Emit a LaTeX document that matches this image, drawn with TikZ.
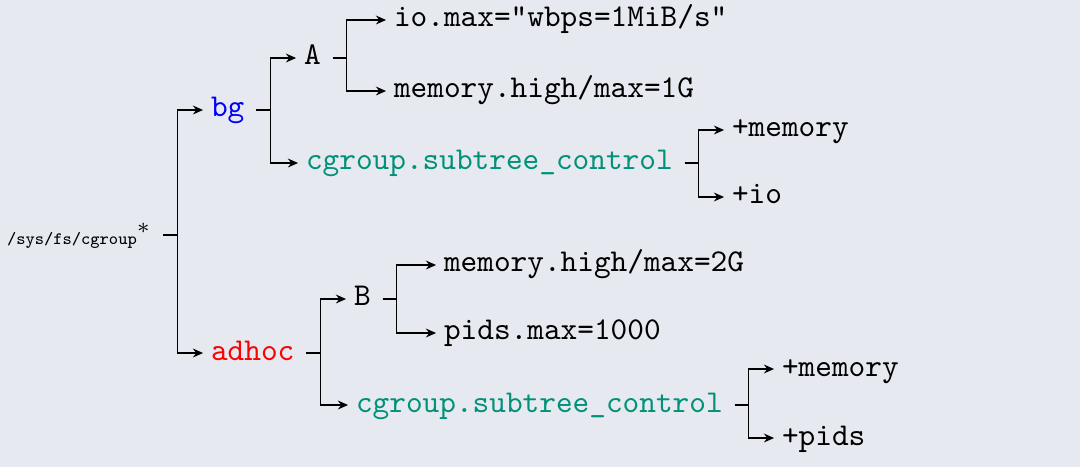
\documentclass[tikz,border=0pt]{standalone}
\usetikzlibrary{arrows.meta}
\definecolor{bgc}{RGB}{230,233,239}
\definecolor{cgreen}{RGB}{0,145,120}
\tikzset{
  lbl/.style={anchor=west,inner sep=0pt,outer sep=0pt,font=\ttfamily,text height=6.5pt,text depth=2.1pt},
  arr/.style={line width=0.45pt,-{Stealth[length=3.2pt,width=2.8pt]}},
}
\newcommand\forkto[2]{\draw[arr] ([xshift=3.8pt]#1.east) -- ++(4.4pt,0) |- ([xshift=-2.5pt]#2.west);}
\begin{document}
\begin{tikzpicture}[x=0.315pt,y=-0.315pt]
\fill[bgc] (0,0) rectangle (1080,467);
\useasboundingbox (0,0) rectangle (1080,467);
\node[lbl,text height=7pt,text depth=1pt] (root) at (7,235) {{\fontsize{5.5}{6.6}\selectfont\ttfamily /sys/fs/cgroup}$^{*}$};
\node[lbl,text=blue] (bg) at (211,110) {bg};
\node[lbl] (A) at (304,58) {A};
\node[lbl] (io) at (394,20) {io.max="wbps=1MiB/s"};
\node[lbl] (m1) at (394,91) {memory.high/max=1G};
\node[lbl,text=cgreen] (cg1) at (306,163) {cgroup.subtree\_control};
\node[lbl] (pm1) at (732,130) {+memory};
\node[lbl] (pio) at (732,197) {+io};
\node[lbl,text=red] (ad) at (211,353) {adhoc};
\node[lbl] (B) at (354,299) {B};
\node[lbl] (m2) at (444,265) {memory.high/max=2G};
\node[lbl] (pids) at (444,333) {pids.max=1000};
\node[lbl,text=cgreen] (cg2) at (356,405) {cgroup.subtree\_control};
\node[lbl] (pm2) at (782,369) {+memory};
\node[lbl] (ppids) at (782,438) {+pids};
\forkto{root}{bg}
\forkto{root}{ad}
\forkto{bg}{A}
\forkto{bg}{cg1}
\forkto{A}{io}
\forkto{A}{m1}
\forkto{cg1}{pm1}
\forkto{cg1}{pio}
\forkto{ad}{B}
\forkto{ad}{cg2}
\forkto{B}{m2}
\forkto{B}{pids}
\forkto{cg2}{pm2}
\forkto{cg2}{ppids}
\end{tikzpicture}
\end{document}
